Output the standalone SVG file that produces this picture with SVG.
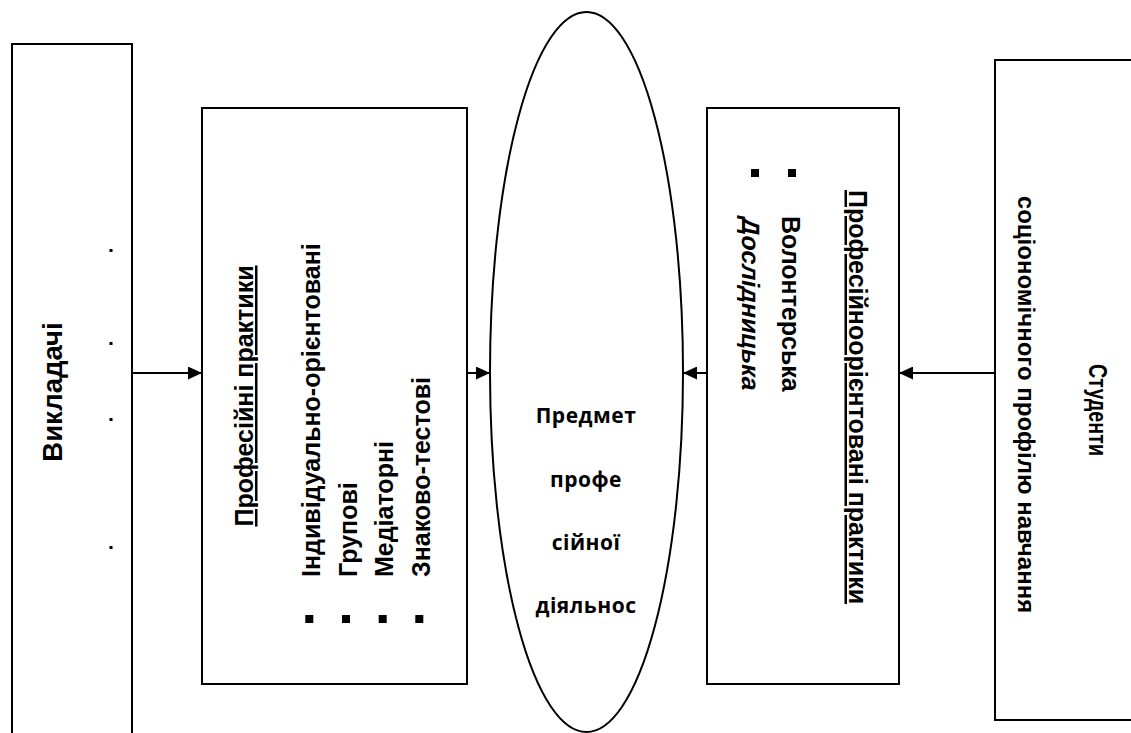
<svg xmlns="http://www.w3.org/2000/svg" width="1131" height="733" viewBox="0 0 1131 733">
<style>
.box{fill:#fff;stroke:#000;stroke-width:2}
.t{font-family:"Liberation Sans",Arial,sans-serif;font-weight:bold;font-size:25px;fill:#000}
.e{font-family:"Open Sans","Liberation Sans",sans-serif;font-weight:bold;font-size:21px;fill:#000;text-anchor:middle;letter-spacing:0.5px}
.c{stroke:#000;stroke-width:2;fill:none;marker-end:url(#ah)}
</style>
<defs>
<marker id="ah" viewBox="0 0 14 13" refX="14" refY="6.5" markerWidth="14" markerHeight="13" markerUnits="userSpaceOnUse" orient="auto">
<path d="M0,0 L14,6.5 L0,13 Z" fill="#000"/>
</marker>
</defs>
<rect width="1131" height="733" fill="#fff"/>
<g id="teachers">
<rect class="box" x="12" y="44" width="120" height="700"/>
<text class="t" style="font-size:27.5px" text-anchor="middle" transform="translate(62,392) rotate(-90)">Викладачі</text>
<rect x="109.5" y="249" width="3" height="3"/>
<rect x="109.5" y="342" width="3" height="3"/>
<rect x="109.5" y="418" width="3" height="3"/>
<rect x="109.5" y="546" width="3" height="3"/>
</g>
<g id="prof-practices">
<rect class="box" x="202" y="108" width="265" height="576"/>
<text class="t" text-anchor="middle" text-decoration="underline" transform="translate(253,396) rotate(-90)">Професійні практики</text>
<text class="t" transform="translate(320,577) rotate(-90)">Індивідуально-орієнтовані</text>
<text class="t" transform="translate(356.7,577) rotate(-90)">Групові</text>
<text class="t" transform="translate(393.3,577) rotate(-90)">Медіаторні</text>
<text class="t" transform="translate(430,577) rotate(-90)">Знаково-тестові</text>
<rect x="305.3" y="615" width="8" height="8"/>
<rect x="342" y="615" width="8" height="8"/>
<rect x="378.7" y="615" width="8" height="8"/>
<rect x="415.3" y="615" width="8" height="8"/>
</g>
<g id="subject">
<ellipse class="box" cx="586.5" cy="372" rx="96.5" ry="360"/>
<text class="e" x="586" y="423">Предмет</text>
<text class="e" x="586" y="487">профе</text>
<text class="e" x="586" y="550">сійної</text>
<text class="e" x="586" y="613">діяльнос</text>
</g>
<g id="career-practices">
<rect class="box" x="707" y="108" width="192" height="576"/>
<text class="t" text-anchor="middle" text-decoration="underline" transform="translate(849,397) rotate(90)">Професійноорієнтовані практики</text>
<text class="t" transform="translate(781.5,216) rotate(90)">Волонтерська</text>
<text class="t" transform="translate(741.5,216) rotate(90) skewX(-12)">Дослідницька</text>
<rect x="788" y="169" width="8" height="8"/>
<rect x="751" y="169" width="8" height="8"/>
</g>
<g id="students">
<rect class="box" x="995" y="60" width="150" height="660"/>
<text class="t" textLength="92" lengthAdjust="spacingAndGlyphs" transform="translate(1089,364) rotate(90)">Студенти</text>
<text class="t" style="font-size:24px" text-anchor="middle" transform="translate(1018,404.5) rotate(90)">соціономічного профілю навчання</text>
</g>
<g id="connectors">
<line class="c" x1="132" y1="373" x2="202" y2="373"/>
<line class="c" x1="467" y1="373" x2="490" y2="373"/>
<line class="c" x1="707" y1="373" x2="683" y2="373"/>
<line class="c" x1="995" y1="373" x2="899" y2="373"/>
</g>
</svg>
